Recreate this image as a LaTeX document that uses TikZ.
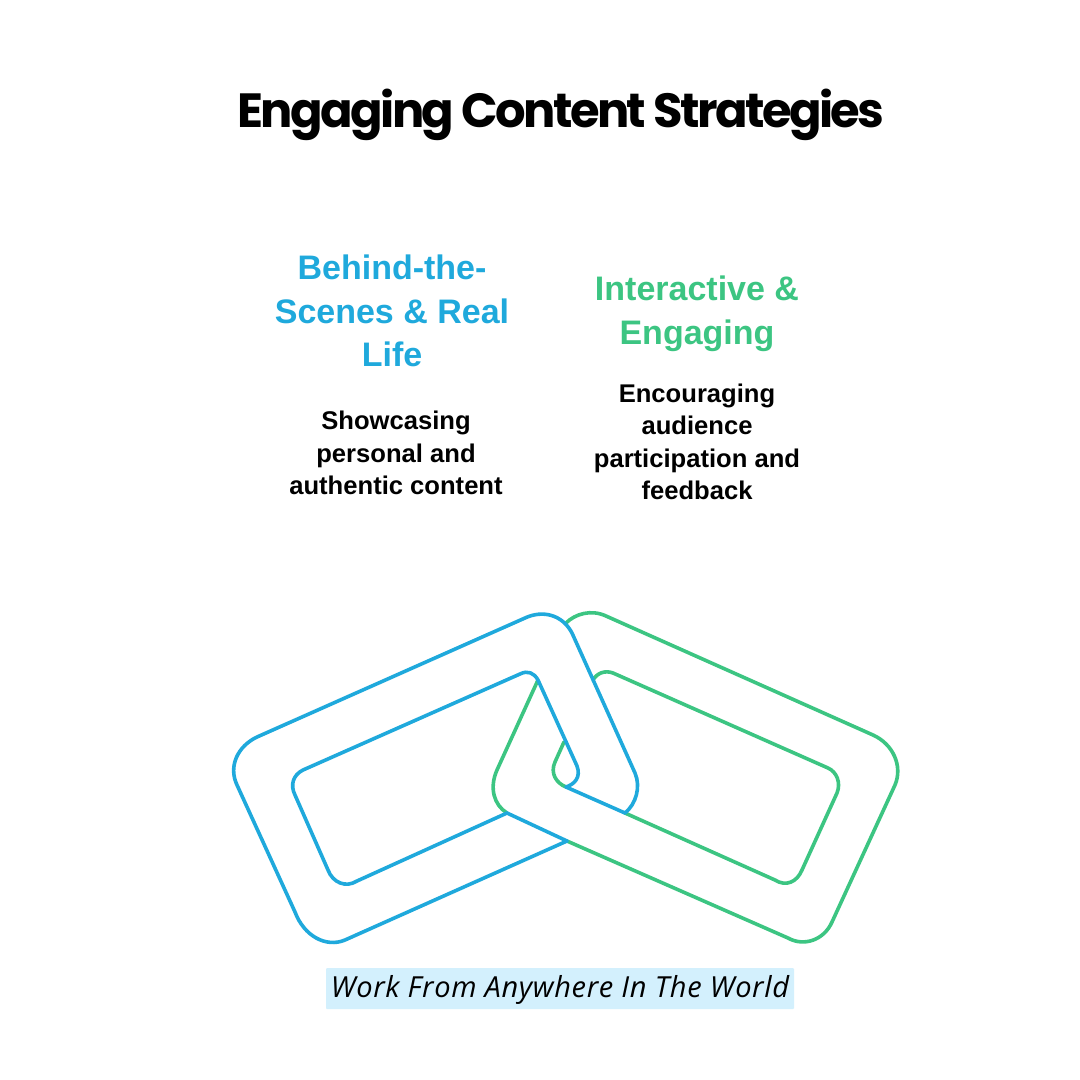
\documentclass[tikz,border=0pt]{standalone}
\usepackage{fontspec}
\setmainfont{Liberation Sans}
\newfontfamily\titlefont[LetterSpace=-5.5]{Poppins}
\newfontfamily\notefont[LetterSpace=2.2]{Open Sans}
\definecolor{linkblue}{HTML}{1FA9DC}
\definecolor{linkgreen}{HTML}{3CC582}
\definecolor{notefill}{HTML}{D3F0FD}
\tikzset{
  bluelink/.style={draw=linkblue, line width=3.6pt, line join=round, line cap=round},
  greenlink/.style={draw=linkgreen, line width=3.6pt, line join=round, line cap=round},
  heading/.style={align=center, inner sep=0pt, font=\fontsize{34}{43.5}\selectfont\bfseries},
  detail/.style={align=center, inner sep=0pt, text=black, font=\fontsize{25.6}{32.5}\selectfont\bfseries},
}
\begin{document}
\begin{tikzpicture}[x=1pt,y=-1pt]
  \useasboundingbox (0,0) rectangle (1080,1080);
  \fill[white] (0,0) rectangle (1080,1080);
  % Texts
  \node (title) at (561,115) {\titlefont\fontsize{48}{56}\selectfont\bfseries Engaging Content Strategies};
  \node[heading, text=linkblue] (sceneshead) at (392,311) {Behind-the-\\Scenes \& Real\\Life};
  \node[heading, text=linkgreen] (interacthead) at (697,314) {Interactive \&\\Engaging};
  \node[detail] (scenestext) at (396,453) {Showcasing\\personal and\\authentic content};
  \node[detail] (interacttext) at (697,442) {Encouraging\\audience\\participation and\\feedback};
  \node[fill=notefill, rounded corners=1pt, minimum width=468pt, minimum height=41pt, inner sep=0pt, text height=24pt, text depth=6pt] (note) at (560,988.5)
    {\notefont\itshape\fontsize{29}{34}\selectfont Work From Anywhere In The World};
  % Green link, outer edge
  \path[greenlink] (566,623) .. controls (575,614) and (591,609) .. (606,616) -- (873,735)
    .. controls (893,744) and (903,766) .. (895,785) -- (832,922)
    .. controls (824,940) and (804,947) .. (788,938) -- (567,841);
  % Green link, inner edge
  \path[greenlink] (593,680) .. controls (597,673) and (605,670) .. (613,673) -- (828,768)
    .. controls (837,772) and (841,783) .. (837,793) -- (802,870)
    .. controls (797,882) and (786,887) .. (775,880) -- (625,813);
  % Green link, left side
  \path[greenlink] (538,680) -- (497,770) .. controls (489,788) and (494,805) .. (507,813);
  \path[greenlink] (564,742) -- (555,762) .. controls (550,773) and (556,783) .. (566,787);
  % Blue link, outer edge
  \path[bluelink] (625,813) .. controls (636,804) and (641,787) .. (635,773) -- (572,633)
    .. controls (562,614) and (542,610) .. (525,618) -- (257,737)
    .. controls (238,746) and (228,766) .. (237,785) -- (295,912)
    .. controls (304,936) and (326,948) .. (345,940) -- (567,841);
  % Blue link, inner edge
  \path[bluelink] (566,787) .. controls (575,784) and (581,777) .. (577,766) -- (538,680)
    .. controls (534,673) and (528,670) .. (520,674) -- (303,770)
    .. controls (293,775) and (290,785) .. (295,795) -- (328,870)
    .. controls (333,883) and (346,888) .. (357,881) -- (507,813);
  % Blue crossing pieces
  \path[bluelink] (566,787) -- (625,813);
  \path[bluelink] (507,813) -- (567,841);
\end{tikzpicture}
\end{document}
